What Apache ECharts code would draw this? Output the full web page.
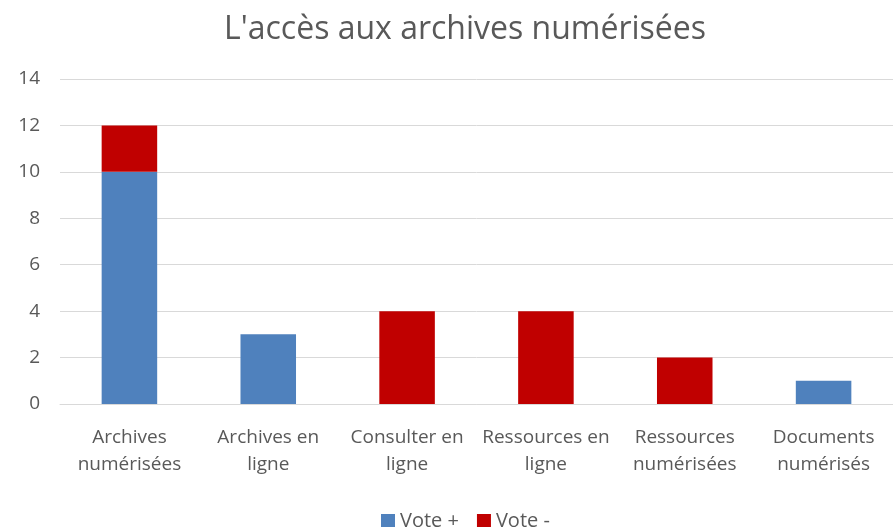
<!DOCTYPE html>
<html>
<head>
<meta charset="utf-8">
<script src="https://cdn.jsdelivr.net/npm/echarts@6/dist/echarts.min.js"></script>
<style>
  html, body { margin: 0; padding: 0; background: #fff; }
  #main { width: 893px; height: 527px; }
</style>
</head>
<body>
<div id="main"></div>
<script>
var categories = ['Archives\nnumérisées', 'Archives en\nligne', 'Consulter en\nligne', 'Ressources en\nligne', 'Ressources\nnumérisées', 'Documents\nnumérisés']
var votePlus = [10, 3, 0, 0, 0, 1]
var voteMoins = [2, 0, 4, 4, 2, 0]
var yTicks = [0, 14, 2]  // min, max, interval

var font = 'Open Sans'
var chart = echarts.init(document.getElementById('main'))
chart.setOption({
  animation: false,
  title: {
    text: "L'accès aux archives numérisées",
    left: 219,
    top: 9,
    textStyle: { fontFamily: font, fontSize: 32, fontWeight: 'normal', color: '#595959' }
  },
  legend: {
    top: 506,
    left: 376,
    itemWidth: 14,
    itemHeight: 14,
    itemGap: 18,
    icon: 'rect',
    textStyle: { fontFamily: font, fontSize: 20, color: '#595959' },
    data: ['Vote +', 'Vote -']
  },
  grid: { left: 60, right: 0, top: 79, bottom: 123, containLabel: false },
  xAxis: {
    type: 'category',
    data: categories,
    axisLine: { lineStyle: { color: '#d9d9d9', width: 1 } },
    axisTick: { show: false },
    axisLabel: { fontFamily: font, fontSize: 19, color: '#595959', margin: 20, lineHeight: 27, interval: 0 }
  },
  yAxis: {
    type: 'value',
    min: yTicks[0],
    max: yTicks[1],
    interval: yTicks[2],
    axisLine: { show: false },
    axisTick: { show: false },
    axisLabel: { fontFamily: font, fontSize: 19, color: '#595959', margin: 20 },
    splitLine: { lineStyle: { color: '#d9d9d9', width: 1 } }
  },
  series: [
    { name: 'Vote +', type: 'bar', stack: 'v', barWidth: '40%', data: votePlus, itemStyle: { color: '#4F81BD' } },
    { name: 'Vote -', type: 'bar', stack: 'v', barWidth: '40%', data: voteMoins, itemStyle: { color: '#C00000' } }
  ]
})
</script>
</body>
</html>
